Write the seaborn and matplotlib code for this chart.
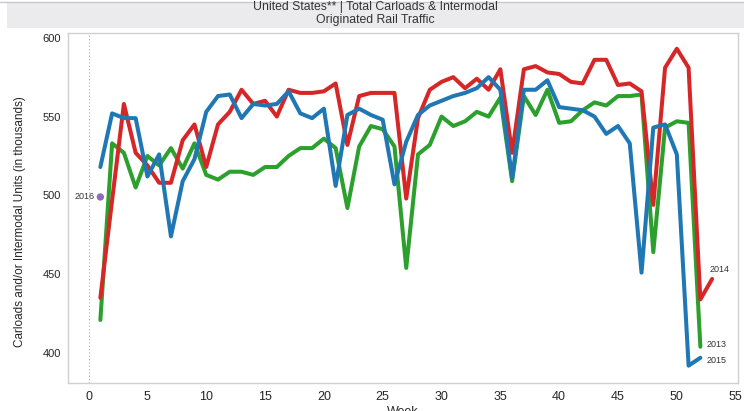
import matplotlib
matplotlib.use('Agg')
import seaborn as sns
import matplotlib.pyplot as plt
import pandas as pd
from matplotlib.patches import Rectangle

# weekly originated rail traffic, thousands of carloads / intermodal units
weeks_2013 = list(range(1, 53))
units_2013 = [421, 533, 527, 505, 525, 519, 530, 517, 533, 513,
              510, 515, 515, 513, 518, 518, 525, 530, 530, 536,
              530, 492, 531, 544, 542, 531, 454, 526, 532, 550,
              544, 547, 553, 550, 562, 509, 563, 551, 567, 546,
              547, 554, 559, 557, 563, 563, 564, 464, 543, 547,
              546, 404]

weeks_2014 = list(range(1, 54))
units_2014 = [435, 497, 558, 527, 519, 508, 508, 535, 545, 518,
              545, 553, 567, 558, 560, 550, 567, 565, 565, 566,
              571, 532, 563, 565, 565, 565, 498, 549, 567, 572,
              575, 568, 574, 567, 580, 527, 580, 582, 578, 577,
              572, 571, 586, 586, 570, 571, 566, 494, 581, 593,
              581, 434, 447]

weeks_2015 = list(range(1, 53))
units_2015 = [518, 552, 549, 549, 512, 526, 474, 509, 523, 553,
              563, 564, 549, 558, 557, 558, 566, 552, 549, 555,
              506, 551, 555, 551, 548, 507, 534, 551, 557, 560,
              563, 565, 568, 575, 567, 511, 567, 567, 573, 556,
              555, 554, 550, 539, 544, 533, 451, 543, 545, 526,
              392, 397]

weeks_2016 = [1]
units_2016 = [499]

year_colors = {'2013': '#2ca02c', '2014': '#d62728', '2015': '#1f77b4', '2016': '#9467bd'}

frames = []
for yr, wk, val in [('2013', weeks_2013, units_2013),
                    ('2014', weeks_2014, units_2014),
                    ('2015', weeks_2015, units_2015)]:
    frames.append(pd.DataFrame({'Week': wk, 'Units': val, 'Year': yr}))
df = pd.concat(frames, ignore_index=True)
df16 = pd.DataFrame({'Week': weeks_2016, 'Units': units_2016, 'Year': '2016'})

sns.set_style('white')
plt.rcParams['font.family'] = ['Liberation Sans', 'DejaVu Sans']

fig = plt.figure(figsize=(7.44, 4.11), dpi=100)
ax = fig.add_axes([68 / 744, 1 - 383 / 411, 670 / 744, 350 / 411])

# title band
fig.patches.append(Rectangle((7 / 744, 1 - 28 / 411), 1, 26 / 411, transform=fig.transFigure,
                             facecolor='#ebebee', edgecolor='none', zorder=0))
fig.lines.append(plt.Line2D([0, 1], [1 - 2 / 411, 1 - 2 / 411], transform=fig.transFigure,
                            color='#c8c8c8', lw=1))
fig.text(0.505, 1 - 7 / 411, 'United States** | Total Carloads & Intermodal',
         ha='center', va='center', fontsize=8.8, color='#333333')
fig.text(0.505, 1 - 20 / 411, 'Originated Rail Traffic',
         ha='center', va='center', fontsize=8.8, color='#333333')

ax.axvline(0, color='#b0b0b0', lw=0.8, ls=(0, (1, 2)), zorder=1)

sns.lineplot(data=df, x='Week', y='Units', hue='Year', hue_order=['2013', '2014', '2015'],
             palette=year_colors, linewidth=2.9, legend=False, ax=ax, zorder=3)
sns.scatterplot(data=df16, x='Week', y='Units', color=year_colors['2016'], s=28,
                edgecolor='none', legend=False, ax=ax, zorder=4)

# end-of-line labels
ax.text(weeks_2016[0] - 0.45, units_2016[0], '2016', ha='right', va='center', fontsize=6.5, color='#333333')
ax.text(weeks_2014[-1] - 0.2, units_2014[-1] + 6, '2014', ha='left', va='center', fontsize=6.5, color='#333333')
ax.text(weeks_2013[-1] + 0.5, units_2013[-1] + 1.5, '2013', ha='left', va='center', fontsize=6.5, color='#333333')
ax.text(weeks_2015[-1] + 0.5, units_2015[-1] - 1.5, '2015', ha='left', va='center', fontsize=6.5, color='#333333')

ax.set_xlim(-1.75, 55.2)
ax.set_ylim(381, 603)
ax.set_xticks(range(0, 56, 5))
ax.set_yticks(range(400, 601, 50))
ax.tick_params(axis='x', direction='out', length=3, color='#c8c8c8', labelsize=9, pad=3)
ax.tick_params(axis='y', direction='out', length=3, color='#c8c8c8', labelsize=8, pad=2)
for s in ax.spines.values():
    s.set_color('#d0d0d0')
    s.set_linewidth(1)

ax.set_xlabel('Week', fontsize=9)
ax.set_ylabel('Carloads and/or Intermodal Units (in thousands)', fontsize=8.5)
ax.xaxis.set_label_coords(0.5, -0.065)
ax.yaxis.set_label_coords(-0.063, 0.46)

plt.savefig('out.png', dpi=100)
